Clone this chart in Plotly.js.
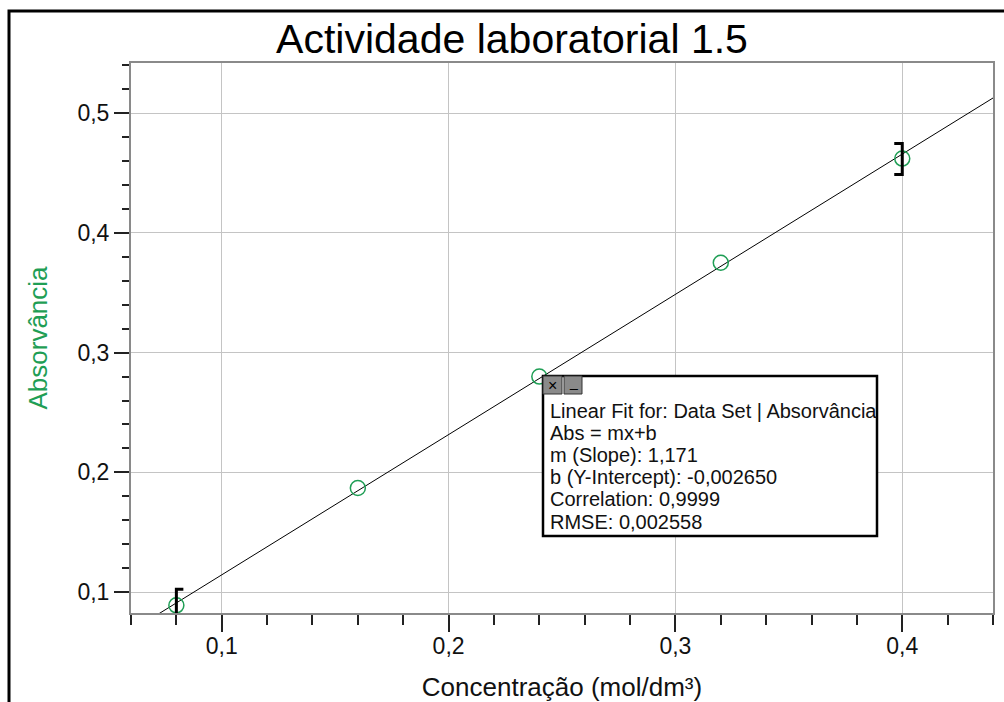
<!DOCTYPE html>
<html>
<head>
<meta charset="utf-8">
<script src="https://cdn.plot.ly/plotly-3.0.1.min.js"></script>
<style>html,body{margin:0;padding:0;background:#fff;}#chart{width:1004px;height:702px;}</style>
</head>
<body>
<div id="chart"></div>
<script>
// ---- data ----
const concentration = [0.08, 0.16, 0.24, 0.32, 0.40];
const absorbance = [0.089, 0.187, 0.280, 0.375, 0.462];
const fitSlope = 1.171;
const fitIntercept = -0.002650;
const fitXRange = [0.06, 0.44];
const fitLines = [
  "Linear Fit for: Data Set | Absorvância",
  "Abs = mx+b",
  "m (Slope): 1,171",
  "b (Y-Intercept): -0,002650",
  "Correlation: 0,9999",
  "RMSE: 0,002558"
];
const chartTitle = "Actividade laboratorial 1.5";
const xTitle = "Concentração (mol/dm³)";
const yTitle = "Absorvância";

// ---- layout helpers ----
const W = 1004, H = 702;
const M = {l: 131, r: 11, t: 63, b: 89};
const PW = W - M.l - M.r, PH = H - M.t - M.b;
const px = v => (v - M.l) / PW;      // pixel -> paper x
const py = v => (H - M.b - v) / PH;  // pixel -> paper y

const FONT = '"Liberation Sans", Arial, sans-serif';
const GREEN = '#1f9e55';

const fitX = fitXRange.slice();
const fitY = fitX.map(x => fitSlope * x + fitIntercept);

const traces = [
  {x: fitX, y: fitY, mode: 'lines', line: {color: '#000', width: 1}, hoverinfo: 'skip', showlegend: false},
  {x: concentration, y: absorbance, mode: 'markers',
   marker: {symbol: 'circle-open', size: 15, color: GREEN, line: {width: 1.5, color: GREEN}},
   showlegend: false}
];

const shapes = [];
// fit range brackets
const n = concentration.length;
shapes.push({type: 'path', xref: 'x', yref: 'y', xsizemode: 'pixel', ysizemode: 'pixel',
  xanchor: concentration[0], yanchor: absorbance[0],
  path: 'M 7,16 L 0,16 L 0,-18 L 7,-18', line: {color: '#000', width: 3}});
shapes.push({type: 'path', xref: 'x', yref: 'y', xsizemode: 'pixel', ysizemode: 'pixel',
  xanchor: concentration[n-1], yanchor: absorbance[n-1],
  path: 'M -8,15 L 0,15 L 0,-16 L -8,-16', line: {color: '#000', width: 3}});
// stats box
shapes.push({type: 'rect', xref: 'paper', yref: 'paper', x0: px(543), x1: px(877), y0: py(536), y1: py(376),
  fillcolor: '#fff', line: {color: '#000', width: 2.5}});
shapes.push({type: 'rect', xref: 'paper', yref: 'paper', x0: px(543), x1: px(562), y0: py(394), y1: py(376),
  fillcolor: '#8a8a8a', line: {color: '#333', width: 1}});
shapes.push({type: 'rect', xref: 'paper', yref: 'paper', x0: px(564), x1: px(582), y0: py(394), y1: py(376),
  fillcolor: '#8a8a8a', line: {color: '#333', width: 1}});
// outer frame
shapes.push({type: 'rect', xref: 'paper', yref: 'paper', x0: px(9), x1: px(1030), y0: py(730), y1: py(11),
  line: {color: '#000', width: 3}, fillcolor: 'rgba(0,0,0,0)'});

const annotations = fitLines.map((t, i) => ({
  text: t, xref: 'paper', yref: 'paper', x: px(548), y: py(410.5 + i * 22.2),
  xanchor: 'left', yanchor: 'middle', showarrow: false,
  font: {family: FONT, size: 20, color: '#111'}
}));
annotations.push({text: '×', xref: 'paper', yref: 'paper', x: px(552.5), y: py(385), xanchor: 'center', yanchor: 'middle',
  showarrow: false, font: {family: FONT, size: 16, color: '#000'}});
annotations.push({text: '_', xref: 'paper', yref: 'paper', x: px(573), y: py(382), xanchor: 'center', yanchor: 'middle',
  showarrow: false, font: {family: FONT, size: 14, color: '#000'}});

const layout = {
  width: W, height: H,
  margin: M,
  paper_bgcolor: '#fff', plot_bgcolor: '#fff',
  separators: ',.',
  font: {family: FONT, color: '#111'},
  title: {text: chartTitle, font: {family: FONT, size: 41, color: '#000'},
    x: 512 / W, xanchor: 'center', xref: 'container', y: 1 - 39 / H, yanchor: 'middle', yref: 'container'},
  xaxis: {
    range: [0.06, 0.44], dtick: 0.1, tick0: 0,
    ticks: 'outside', ticklen: 17, tickwidth: 2, tickcolor: '#222',
    ticklabelstandoff: -6,
    showgrid: true, gridcolor: '#c4c4c4', gridwidth: 1,
    showline: true, linecolor: '#8a8a8a', linewidth: 2, mirror: true,
    zeroline: false,
    tickfont: {family: FONT, size: 23, color: '#111'},
    minor: {dtick: 0.02, tick0: 0, ticks: 'outside', ticklen: 10, tickwidth: 2, tickcolor: '#222', showgrid: false},
    title: {text: xTitle, font: {family: FONT, size: 26, color: '#111'}, standoff: 20}
  },
  yaxis: {
    range: [0.0826, 0.5418], dtick: 0.1, tick0: 0,
    ticks: 'outside', ticklen: 15, tickwidth: 2, tickcolor: '#222',
    showgrid: true, gridcolor: '#c4c4c4', gridwidth: 1,
    showline: true, linecolor: '#8a8a8a', linewidth: 2, mirror: true,
    zeroline: false,
    tickfont: {family: FONT, size: 23, color: '#111'},
    minor: {dtick: 0.02, tick0: 0, ticks: 'outside', ticklen: 7, tickwidth: 2, tickcolor: '#222', showgrid: false},
    title: {text: yTitle, font: {family: FONT, size: 26, color: GREEN}, standoff: 22}
  },
  shapes: shapes,
  annotations: annotations,
  showlegend: false
};

Plotly.newPlot('chart', traces, layout, {staticPlot: true, displayModeBar: false});
</script>
</body>
</html>
